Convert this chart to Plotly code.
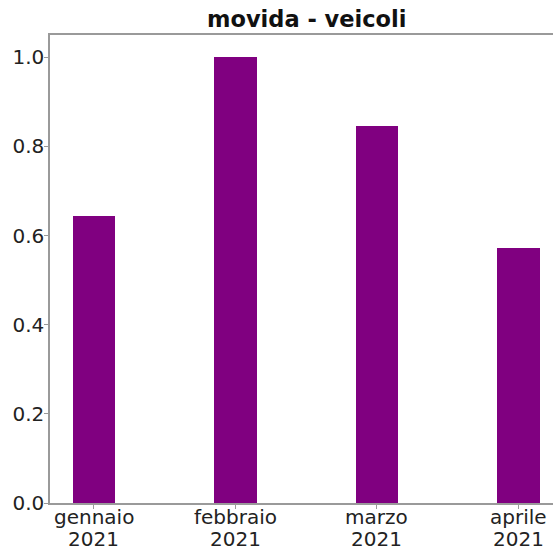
import plotly.graph_objects as go

month_names = ["gennaio", "febbraio", "marzo", "aprile"]
years = ["2021", "2021", "2021", "2021"]
values = [0.643, 1.0, 0.845, 0.573]
y_ticks = [0.0, 0.2, 0.4, 0.6, 0.8, 1.0]
title = "movida - veicoli"

xs = list(range(len(month_names)))
fig = go.Figure()
fig.add_trace(go.Bar(
    x=xs, y=values, width=0.3,
    marker=dict(color="purple", line=dict(width=0)),
))

axis_col = "#9a9a9a"
text_col = "#222222"
fig.update_layout(
    width=553, height=546,
    margin=dict(l=50, r=0, t=35, b=43, autoexpand=False),
    plot_bgcolor="white", paper_bgcolor="white",
    font=dict(family="DejaVu Sans", size=20, color=text_col),
    showlegend=False,
    bargap=0,
)
fig.update_xaxes(
    range=[-0.31, 3.245], automargin=False,
    tickmode="array", tickvals=xs, showticklabels=False,
    showgrid=False, zeroline=False,
    showline=True, linecolor=axis_col, linewidth=1.5, mirror=True,
    ticks="outside", ticklen=4, tickcolor=axis_col,
)
fig.update_yaxes(
    range=[0, 1.05], automargin=False,
    tickmode="array", tickvals=y_ticks, ticktext=[f"{v:.1f}" for v in y_ticks],
    showgrid=False, zeroline=False,
    showline=True, linecolor=axis_col, linewidth=1.5, mirror=False,
    ticks="outside", ticklen=4, tickcolor=axis_col,
    ticklabelstandoff=-4,
)
for xv, name, yr in zip(xs, month_names, years):
    fig.add_annotation(text=name, x=xv, xref="x", y=0, yref="paper",
                       xanchor="center", yanchor="middle", yshift=-14,
                       showarrow=False, font=dict(size=20, color=text_col))
    fig.add_annotation(text=yr, x=xv, xref="x", y=0, yref="paper",
                       xanchor="center", yanchor="middle", yshift=-36,
                       showarrow=False, font=dict(size=20, color=text_col))
fig.add_annotation(
    text="<b>" + title + "</b>", xref="x", yref="paper",
    x=1.5, y=1, xanchor="center", yanchor="bottom", yshift=1,
    showarrow=False, font=dict(family="DejaVu Sans", size=22.5, color="#111111"),
)
fig.write_html(
    "out.html",
    config={"displayModeBar": False},
    post_script=(
        "document.body.style.margin='0';"
        "document.body.style.overflow='hidden';"
        "document.documentElement.style.overflow='hidden';"
        "document.documentElement.style.scrollbarWidth='none';"
        "document.body.style.height='546px';"
    ),
)
